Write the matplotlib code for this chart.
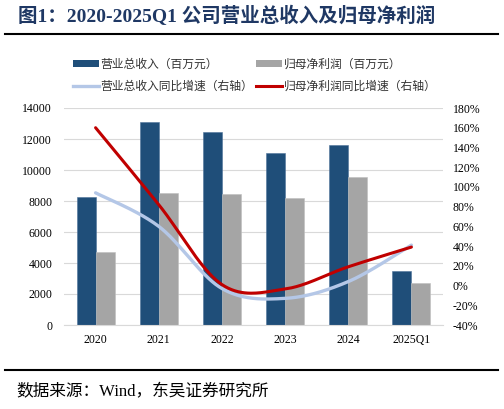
import numpy as np
import matplotlib
matplotlib.use("Agg")
import matplotlib.pyplot as plt
from matplotlib.lines import Line2D
from matplotlib.patches import Patch
from matplotlib.ticker import FuncFormatter, MultipleLocator

plt.rcParams['font.family'] = ['Liberation Serif', 'Noto Sans CJK SC']

# data
categories = ['2020', '2021', '2022', '2023', '2024', '2025Q1']
revenue = [8250, 13080, 12470, 11080, 11610, 3460]        # 营业总收入（百万元）
net_profit = [4730, 8500, 8450, 8170, 9570, 2690]         # 归母净利润（百万元）
revenue_yoy = [94, 60, -3, -13, 4, 41]                    # %
profit_yoy = [160, 82, 1, -3.5, 19, 39]                   # %

navy = '#1F4E79'
gray = '#A5A5A5'
light_blue = '#B4C7E7'
red = '#C00000'


def smooth_line(xs, ys, steps=40):
    # Excel-style smoothed line (Catmull-Rom as cubic Bezier through the points)
    pts = np.column_stack([xs, ys]).astype(float)
    out = [pts[0]]
    n = len(pts)
    for i in range(n - 1):
        p0 = pts[i - 1] if i > 0 else pts[i]
        p1 = pts[i]
        p2 = pts[i + 1]
        p3 = pts[i + 2] if i + 2 < n else pts[i + 1]
        c1 = p1 + (p2 - p0) / 6
        c2 = p2 - (p3 - p1) / 6
        t = np.linspace(0, 1, steps)[1:, None]
        seg = ((1 - t) ** 3) * p1 + 3 * ((1 - t) ** 2) * t * c1 \
            + 3 * (1 - t) * t ** 2 * c2 + t ** 3 * p2
        out.extend(seg)
    out = np.array(out)
    return out[:, 0], out[:, 1]


fig = plt.figure(figsize=(5.04, 4.09), dpi=100)
ax = fig.add_axes([64 / 504, 1 - 325 / 409, 379 / 504, 217 / 409])

x = np.arange(len(categories))
w = 0.3
ax.bar(x - w / 2, revenue, w, color=navy, edgecolor='#4F729A', linewidth=0.4, zorder=2)
ax.bar(x + w / 2, net_profit, w, color=gray, edgecolor='#BFBFBF', linewidth=0.4, zorder=2)

ax.set_xlim(-0.5, len(categories) - 0.5)
ax.set_ylim(0, 14000)
ax.yaxis.set_major_locator(MultipleLocator(2000))
ax.set_xticks(x)
ax.set_xticklabels(categories)
ax.grid(axis='y', color='#D9D9D9', linewidth=0.8, zorder=0)
ax.set_axisbelow(True)
for s in ['top', 'left', 'right']:
    ax.spines[s].set_visible(False)
ax.spines['bottom'].set_color('#D9D9D9')
ax.spines['bottom'].set_linewidth(0.8)
ax.tick_params(axis='x', length=0, pad=6.5, labelsize=8.5)
ax.tick_params(axis='y', length=0, pad=8.5, labelsize=8.5)

ax2 = ax.twinx()
ax2.set_ylim(-40, 180)
ax2.yaxis.set_major_locator(MultipleLocator(20))
ax2.yaxis.set_major_formatter(FuncFormatter(lambda v, p: f'{v:.0f}%'))
ax2.tick_params(axis='y', length=0, pad=7, labelsize=8.5)
for s in ax2.spines.values():
    s.set_visible(False)

sx, sy = smooth_line(x, revenue_yoy)
ax2.plot(sx, sy, color=light_blue, linewidth=2.4, solid_capstyle='round', zorder=3)
sx, sy = smooth_line(x, profit_yoy)
ax2.plot(sx, sy, color=red, linewidth=2.2, solid_capstyle='round', zorder=4)

handles = [
    Patch(facecolor=navy),
    Line2D([], [], color=light_blue, linewidth=2.4),
    Patch(facecolor=gray),
    Line2D([], [], color=red, linewidth=2.2),
]
labels = ['营业总收入（百万元）', '营业总收入同比增速（右轴）',
          '归母净利润（百万元）', '归母净利润同比增速（右轴）']
fig.legend(handles, labels, ncol=2, loc='upper left',
           bbox_to_anchor=(73 / 504, 1 - 59 / 409), frameon=False,
           fontsize=8.5, handlelength=2.2, handleheight=0.5, handletextpad=0.15,
           columnspacing=0.2, labelspacing=0.85, borderpad=0, borderaxespad=0,
           labelcolor='#333333')

# title, rules and source note
fig.text(18 / 504, 1 - 16 / 409, '图1：2020-2025Q1 公司营业总收入及归母净利润',
         fontsize=14, fontweight='bold', color='#1F3864', va='center', ha='left')
fig.add_artist(Line2D([5 / 504, 498 / 504], [1 - 34 / 409, 1 - 34 / 409],
                      color='black', linewidth=1.5))
fig.add_artist(Line2D([5 / 504, 498 / 504], [1 - 370 / 409, 1 - 370 / 409],
                      color='black', linewidth=1.5))
fig.text(16 / 504, 1 - 392 / 409, '数据来源：Wind，东吴证券研究所',
         fontsize=12, color='black', va='center', ha='left')

fig.savefig('out.png', dpi=100)
